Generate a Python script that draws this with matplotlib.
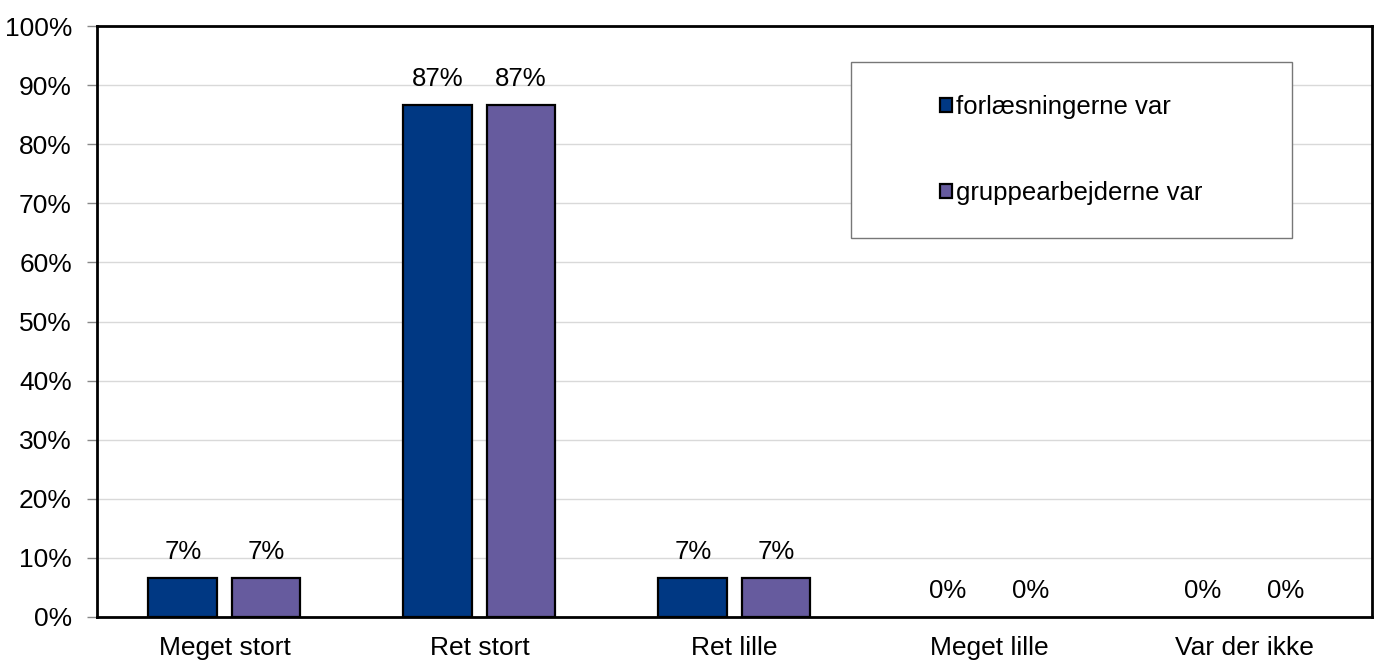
import matplotlib
matplotlib.use("Agg")
import matplotlib.pyplot as plt
import numpy as np
from matplotlib.patches import Rectangle

plt.rcParams['font.family'] = ['Liberation Sans', 'DejaVu Sans']

kategorier = ["Meget stort", "Ret stort", "Ret lille", "Meget lille", "Var der ikke"]
forlaesninger = [6.67, 86.67, 6.67, 0, 0]
gruppearbejder = [6.67, 86.67, 6.67, 0, 0]
serie_navne = ["forlæsningerne var", "gruppearbejderne var"]
farver = ["#003883", "#665b9e"]

fig = plt.figure(figsize=(13.81, 6.62), dpi=100)
ax = fig.add_axes([0.0702, 0.068, 0.9233, 0.8927])

x = np.arange(len(kategorier))
bredde = 0.27
forskyd = 0.163

for i, (vaerdier, navn) in enumerate(zip([forlaesninger, gruppearbejder], serie_navne)):
    pos = x + (forskyd if i else -forskyd)
    bars = ax.bar(pos, vaerdier, width=bredde, color=farver[i], edgecolor="black",
                  linewidth=1.6, label=navn, zorder=3)
    for b, v in zip(bars, vaerdier):
        if v == 0:
            b.set_linewidth(0)  # ingen streg på tomme søjler
        ax.text(b.get_x() + b.get_width() / 2, v + 2.3, f"{round(v)}%",
                ha="center", va="bottom", fontsize=18.5)

ax.set_xlim(-0.5, len(kategorier) - 0.5)
ax.set_ylim(0, 100)
ax.set_yticks(range(0, 101, 10))
ax.set_yticklabels([f"{t}%" for t in range(0, 101, 10)], fontsize=19)
ax.set_xticks(x)
ax.set_xticklabels(kategorier, fontsize=19)
ax.tick_params(axis="x", length=0, pad=14)
ax.tick_params(axis="y", length=7, width=1, color="#888888", pad=11)
ax.yaxis.grid(True, color="#d9d9d9", linewidth=1, zorder=0)
for s in ax.spines.values():
    s.set_linewidth(2)
    s.set_zorder(4)

# legend ramme
ax.add_patch(Rectangle((0.591, 0.641), 0.346, 0.298, transform=ax.transAxes,
                       facecolor="white", edgecolor="#777777", linewidth=1, zorder=4))
leg = ax.legend(loc="center", bbox_to_anchor=(0.764, 0.79), frameon=False, fontsize=18.5,
                handlelength=0.5, handleheight=0.5, handletextpad=0.15,
                labelspacing=2.4)
leg.set_zorder(5)

plt.savefig("out.png", dpi=100)
plt.close()
